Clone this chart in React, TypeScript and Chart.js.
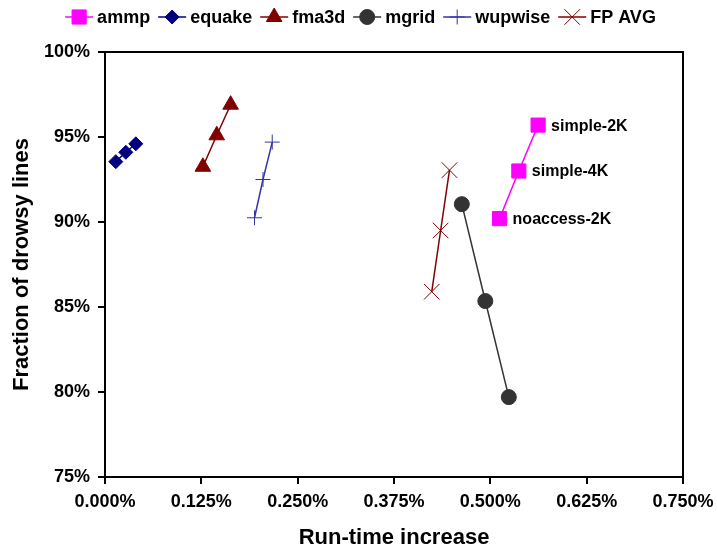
import { useEffect, useRef } from 'react';
import { Chart, registerables } from 'chart.js';

Chart.register(...registerables);

// Run-time increase (%) vs. fraction of drowsy lines (%) per benchmark
const ammpRuntime = [0.512, 0.537, 0.562];
const ammpDrowsy = [90.2, 93.0, 95.7];
const ammpConfigs = ['noaccess-2K', 'simple-4K', 'simple-2K'];

const equakeRuntime = [0.014, 0.027, 0.040];
const equakeDrowsy = [93.55, 94.1, 94.6];

const fma3dRuntime = [0.127, 0.145, 0.163];
const fma3dDrowsy = [93.25, 95.1, 96.9];

const mgridRuntime = [0.463, 0.4935, 0.524];
const mgridDrowsy = [91.05, 85.35, 79.7];

const wupwiseRuntime = [0.194, 0.205, 0.217];
const wupwiseDrowsy = [90.25, 92.5, 94.7];

const fpAvgRuntime = [0.424, 0.4355, 0.447];
const fpAvgDrowsy = [85.9, 89.5, 93.05];

const X_MIN = 0;
const X_MAX = 0.75;
const X_STEP = 0.125;
const Y_MIN = 75;
const Y_MAX = 100;
const Y_STEP = 5;

const FONT = '"Liberation Sans", Arial, sans-serif';

const toPoints = (xs: number[], ys: number[]) => xs.map((x, i) => ({ x, y: ys[i] }));

type MarkerSpec = {
  style: string;
  radius: number;
  fill: string;
  stroke: string;
  line: string;
};

function drawMarker(ctx: CanvasRenderingContext2D, m: MarkerSpec, x: number, y: number) {
  const r = m.radius;
  ctx.save();
  ctx.fillStyle = m.fill;
  ctx.strokeStyle = m.stroke;
  ctx.lineWidth = 1;
  ctx.beginPath();
  switch (m.style) {
    case 'rect': {
      const s = Math.SQRT1_2 * r;
      ctx.rect(x - s, y - s, 2 * s, 2 * s);
      ctx.fill();
      ctx.stroke();
      break;
    }
    case 'rectRot':
      ctx.moveTo(x - r, y);
      ctx.lineTo(x, y - r);
      ctx.lineTo(x + r, y);
      ctx.lineTo(x, y + r);
      ctx.closePath();
      ctx.fill();
      ctx.stroke();
      break;
    case 'triangle': {
      const a = (2 * Math.PI) / 3;
      ctx.moveTo(x, y - r);
      ctx.lineTo(x + Math.sin(a) * r, y - Math.cos(a) * r);
      ctx.lineTo(x + Math.sin(2 * a) * r, y - Math.cos(2 * a) * r);
      ctx.closePath();
      ctx.fill();
      ctx.stroke();
      break;
    }
    case 'circle':
      ctx.arc(x, y, r, 0, Math.PI * 2);
      ctx.fill();
      ctx.stroke();
      break;
    case 'cross':
      ctx.moveTo(x - r, y);
      ctx.lineTo(x + r, y);
      ctx.moveTo(x, y - r);
      ctx.lineTo(x, y + r);
      ctx.stroke();
      break;
    case 'crossRot': {
      const d = Math.SQRT1_2 * r;
      ctx.moveTo(x - d, y - d);
      ctx.lineTo(x + d, y + d);
      ctx.moveTo(x + d, y - d);
      ctx.lineTo(x - d, y + d);
      ctx.stroke();
      break;
    }
  }
  ctx.restore();
}

const legendMarkers: Record<string, MarkerSpec> = {};

// Legend row across the top: short line with marker, then the series name
const topLegend = {
  id: 'topLegend',
  afterDraw(chart: Chart) {
    const ctx = chart.ctx;
    const items = chart.data.datasets.map((ds: any) => ({
      label: ds.label as string,
      marker: legendMarkers[ds.label as string],
    }));
    ctx.save();
    ctx.font = `bold 18px ${FONT}`;
    const symbolW = 28;
    const textGap = 4;
    const itemGap = 8;
    const widths = items.map((it) => ctx.measureText(it.label).width);
    const total =
      widths.reduce((a, b) => a + b, 0) + items.length * (symbolW + textGap) + (items.length - 1) * itemGap;
    let x = chart.width / 2 + 2 - total / 2;
    const y = 17;
    items.forEach((it, i) => {
      ctx.strokeStyle = it.marker.line;
      ctx.lineWidth = 1.5;
      ctx.beginPath();
      ctx.moveTo(x, y);
      ctx.lineTo(x + symbolW, y);
      ctx.stroke();
      drawMarker(ctx, it.marker, x + symbolW / 2, y);
      x += symbolW + textGap;
      ctx.fillStyle = '#000';
      ctx.textAlign = 'left';
      ctx.textBaseline = 'middle';
      ctx.fillText(it.label, x, y + 1);
      x += widths[i] + itemGap;
    });
    ctx.restore();
  },
};

// Configuration names beside the ammp points
const ammpLabels = {
  id: 'ammpLabels',
  afterDatasetsDraw(chart: Chart) {
    const meta = chart.getDatasetMeta(0);
    const ctx = chart.ctx;
    ctx.save();
    ctx.font = `bold 16px ${FONT}`;
    ctx.fillStyle = '#000';
    ctx.textAlign = 'left';
    ctx.textBaseline = 'middle';
    meta.data.forEach((pt: any, i: number) => {
      ctx.fillText(ammpConfigs[i], pt.x + 13, pt.y + 1);
    });
    ctx.restore();
  },
};

// Box around the plot area
const plotFrame = {
  id: 'plotFrame',
  beforeDatasetsDraw(chart: Chart) {
    const { left, top, right, bottom } = chart.chartArea;
    const ctx = chart.ctx;
    ctx.save();
    ctx.strokeStyle = '#000';
    ctx.lineWidth = 2;
    ctx.strokeRect(left, top, right - left, bottom - top);
    ctx.restore();
  },
};

export default function App() {
  const canvasRef = useRef<HTMLCanvasElement | null>(null);

  useEffect(() => {
    if (!canvasRef.current) return;

    const series = [
      { label: 'ammp', xs: ammpRuntime, ys: ammpDrowsy, m: { style: 'rect', radius: 10, fill: '#ff00ff', stroke: '#ff00ff', line: '#ff00ff' } },
      { label: 'equake', xs: equakeRuntime, ys: equakeDrowsy, m: { style: 'rectRot', radius: 7, fill: '#000080', stroke: '#000080', line: '#000080' } },
      { label: 'fma3d', xs: fma3dRuntime, ys: fma3dDrowsy, m: { style: 'triangle', radius: 9, fill: '#800000', stroke: '#800000', line: '#800000' } },
      { label: 'mgrid', xs: mgridRuntime, ys: mgridDrowsy, m: { style: 'circle', radius: 7.5, fill: '#333333', stroke: '#333333', line: '#333333' } },
      { label: 'wupwise', xs: wupwiseRuntime, ys: wupwiseDrowsy, m: { style: 'cross', radius: 7.5, fill: '#3535a8', stroke: '#3535a8', line: '#3535a8' } },
      { label: 'FP AVG', xs: fpAvgRuntime, ys: fpAvgDrowsy, m: { style: 'crossRot', radius: 11, fill: '#800000', stroke: '#800000', line: '#800000' } },
    ];
    series.forEach((s) => (legendMarkers[s.label] = s.m as MarkerSpec));

    const chart = new Chart(canvasRef.current, {
      type: 'scatter',
      data: {
        datasets: series.map((s) => ({
          label: s.label,
          data: toPoints(s.xs, s.ys),
          showLine: true,
          borderColor: s.m.line,
          borderWidth: 1.5,
          backgroundColor: s.m.fill,
          pointStyle: s.m.style as any,
          pointRadius: s.m.radius,
          pointBackgroundColor: s.m.fill,
          pointBorderColor: s.m.stroke,
          pointBorderWidth: 1,
        })),
      },
      options: {
        responsive: false,
        animation: false,
        events: [],
        layout: { padding: { left: 0, right: 34, top: 52, bottom: 0 } },
        plugins: {
          legend: { display: false },
          tooltip: { enabled: false },
        },
        scales: {
          x: {
            type: 'linear',
            min: X_MIN,
            max: X_MAX,
            afterFit: (scale: any) => {
              scale.height = 75;
              scale.paddingLeft = 0;
              scale.paddingRight = 0;
            },
            ticks: {
              stepSize: X_STEP,
              color: '#000',
              padding: 7,
              font: { family: FONT, size: 18, weight: 'bold' },
              callback: (v: any) => `${Number(v).toFixed(3)}%`,
            },
            grid: { drawOnChartArea: false, drawTicks: true, tickLength: 7, color: '#000', lineWidth: 2 },
            border: { display: true, color: '#000', width: 2 },
            title: {
              display: true,
              text: 'Run-time increase',
              color: '#000',
              font: { family: FONT, size: 22, weight: 'bold' },
              padding: { top: 0, bottom: 1 },
            },
          },
          y: {
            type: 'linear',
            min: Y_MIN,
            max: Y_MAX,
            afterFit: (scale: any) => {
              scale.width = 105;
            },
            ticks: {
              stepSize: Y_STEP,
              color: '#000',
              padding: 8,
              font: { family: FONT, size: 18, weight: 'bold' },
              callback: (v: any) => `${v}%`,
            },
            grid: { drawOnChartArea: false, drawTicks: true, tickLength: 7, color: '#000', lineWidth: 2 },
            border: { display: true, color: '#000', width: 2 },
            title: {
              display: true,
              text: 'Fraction of drowsy lines',
              color: '#000',
              font: { family: FONT, size: 22, weight: 'bold' },
              padding: { top: 9, bottom: 0 },
            },
          },
        },
      },
      plugins: [plotFrame, ammpLabels, topLegend],
    });

    return () => chart.destroy();
  }, []);

  return (
    <div style={{ position: 'absolute', left: 0, top: 0, width: 717, height: 552, background: '#fff' }}>
      <canvas ref={canvasRef} width={717} height={552} style={{ display: 'block' }} />
    </div>
  );
}
